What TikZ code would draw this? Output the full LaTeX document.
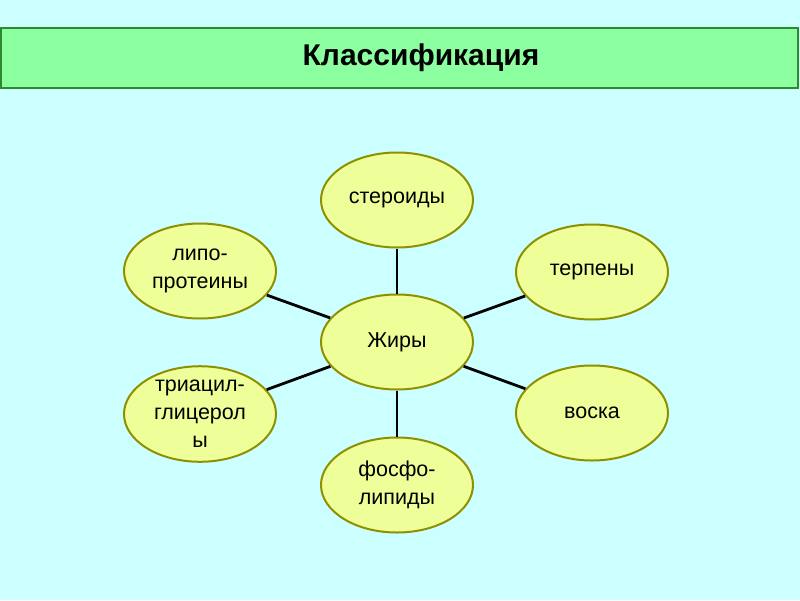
\documentclass[tikz,border=0pt]{standalone}
\usepackage{fontspec}
\setmainfont{Liberation Sans}
\usetikzlibrary{shapes.geometric}
\definecolor{bg}{HTML}{CCFFFF}
\definecolor{band}{HTML}{8CFFA0}
\definecolor{bandline}{HTML}{2F8A2F}
\definecolor{ellfill}{HTML}{EEFF99}
\definecolor{ellline}{HTML}{8F8F00}
\tikzset{
  oval/.style={ellipse, draw=ellline, fill=ellfill, line width=2pt,
    minimum width=152pt, minimum height=95pt, inner sep=0pt,
    align=center, font=\fontsize{21.5}{28}\selectfont},
  link/.style={draw=black, line width=2.8pt}
}
\begin{document}
\begin{tikzpicture}[x=1pt,y=-1pt]
\fill[bg] (0,0) rectangle (800,600);
\useasboundingbox (0,0) rectangle (800,600);
\node[draw=bandline, fill=band, line width=2pt, minimum width=797pt, minimum height=60pt,
  inner sep=0pt, anchor=north west] (title) at (0,27) {};
\node[font=\bfseries\fontsize{30}{34}\selectfont, anchor=base] (ttext) at (421,65) {Классификация};
\node[oval] (fat) at (397,342) {Жиры};
\node[oval] (ster) at (397,200) {стероиды};
\node[oval] (lipo) at (200,271) {липо-\\протеины};
\node[oval] (terp) at (592,272) {терпены};
\node[oval] (tri) at (200,414) {триацил-\\глицерол\\ы};
\node[oval] (wax) at (592,413) {воска};
\node[oval] (phos) at (397,485) {фосфо-\\липиды};
\foreach \n in {ster,lipo,terp,tri,wax,phos} \draw[link] (fat) -- (\n);
\end{tikzpicture}
\end{document}
